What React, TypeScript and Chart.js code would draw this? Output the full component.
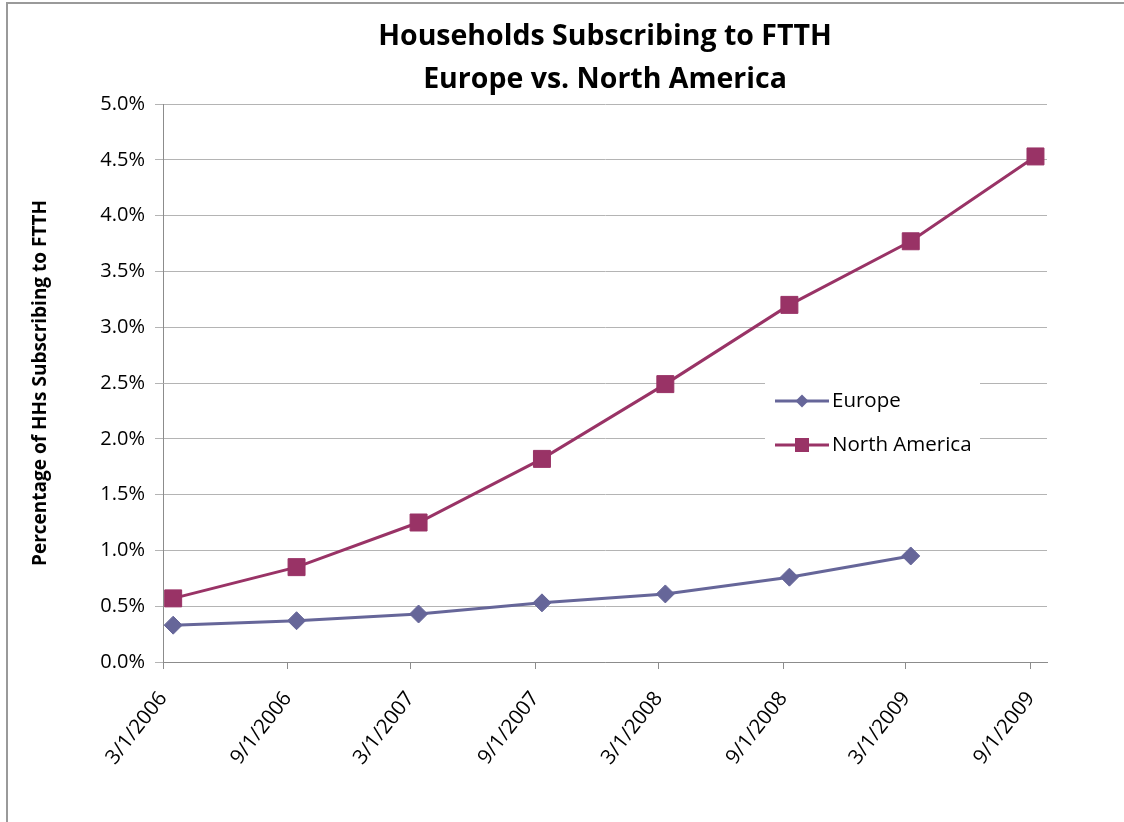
import React, { useEffect, useRef } from 'react';
import { Chart, registerables } from 'chart.js';

Chart.register(...registerables);

const titleLines = ['Households Subscribing to FTTH', 'Europe vs. North America'];
const yAxisTitle = 'Percentage of HHs Subscribing to FTTH';

const tickLabels = ['3/1/2006', '9/1/2006', '3/1/2007', '9/1/2007', '3/1/2008', '9/1/2008', '3/1/2009', '9/1/2009'];
const axisEnd = '9/25/2009';

const pointDates = ['3/16/2006', '9/14/2006', '3/13/2007', '9/11/2007', '3/11/2008', '9/10/2008', '3/8/2009', '9/8/2009'];
const europeValues = [0.33, 0.37, 0.43, 0.53, 0.61, 0.76, 0.95];
const northAmericaValues = [0.57, 0.85, 1.25, 1.82, 2.49, 3.2, 3.77, 4.53];

const seriesNames = ['Europe', 'North America'];
const seriesColors = ['#666699', '#993366'];

const toDay = (s: string) => {
  const [m, d, y] = s.split('/').map(Number);
  const base = Date.UTC(2006, 2, 1);
  return Math.round((Date.UTC(y, m - 1, d) - base) / 86400000);
};

const FONT = "'Open Sans', sans-serif";

function drawMarker(ctx: CanvasRenderingContext2D, style: string, x: number, y: number, r: number) {
  ctx.beginPath();
  if (style === 'rectRot') {
    ctx.moveTo(x - r, y);
    ctx.lineTo(x, y - r);
    ctx.lineTo(x + r, y);
    ctx.lineTo(x, y + r);
  } else {
    ctx.rect(x - r, y - r, 2 * r, 2 * r);
  }
  ctx.closePath();
  ctx.fill();
}

const legendPlugin = {
  id: 'insideLegend',
  afterDatasetsDraw(chart: any) {
    const { ctx, chartArea } = chart;
    const bx = chartArea.left + 602;
    const by = chartArea.top + 271;
    ctx.save();
    ctx.fillStyle = '#ffffff';
    ctx.fillRect(bx, by, 215, 88);
    chart.data.datasets.forEach((ds: any, i: number) => {
      const y = by + 26 + i * 44;
      const x0 = bx + 10;
      ctx.strokeStyle = ds.borderColor;
      ctx.lineWidth = 3;
      ctx.beginPath();
      ctx.moveTo(x0, y);
      ctx.lineTo(x0 + 54, y);
      ctx.stroke();
      ctx.fillStyle = ds.borderColor;
      drawMarker(ctx, ds.pointStyle, x0 + 27, y, ds.pointStyle === 'rectRot' ? 6.5 : 7);
      ctx.fillStyle = '#000';
      ctx.font = `20.5px ${FONT}`;
      ctx.textBaseline = 'middle';
      ctx.textAlign = 'left';
      ctx.fillText(ds.label, x0 + 57, y);
    });
    ctx.restore();
  },
};

export default function App() {
  const ref = useRef<HTMLCanvasElement>(null);

  useEffect(() => {
    if (!ref.current) return;
    const tickDays = tickLabels.map(toDay);
    const xs = pointDates.map(toDay);
    const chart = new Chart(ref.current, {
      type: 'line',
      data: {
        datasets: [
          {
            label: seriesNames[0],
            data: europeValues.map((v, i) => ({ x: xs[i], y: v })),
            borderColor: seriesColors[0],
            backgroundColor: seriesColors[0],
            borderWidth: 3,
            pointStyle: 'rectRot',
            pointRadius: 9,
            pointBorderWidth: 1,
            tension: 0,
          },
          {
            label: seriesNames[1],
            data: northAmericaValues.map((v, i) => ({ x: xs[i], y: v })),
            borderColor: seriesColors[1],
            backgroundColor: seriesColors[1],
            borderWidth: 3,
            pointStyle: 'rect',
            pointRadius: 12,
            pointBorderWidth: 1,
            tension: 0,
          },
        ],
      },
      options: {
        responsive: false,
        animation: false,
        layout: { padding: { left: 0, right: 77, top: 0, bottom: 0 } },
        plugins: {
          legend: { display: false },
          tooltip: { enabled: false },
          title: {
            display: true,
            fullSize: false,
            text: titleLines,
            color: '#000',
            font: { family: FONT, size: 28.5, weight: 'bold', lineHeight: 1.5 },
            padding: { top: 15.5, bottom: 3 },
          },
        },
        scales: {
          x: {
            type: 'linear',
            min: 0,
            max: toDay(axisEnd),
            afterBuildTicks: (scale: any) => {
              scale.ticks = tickDays.map((v) => ({ value: v }));
            },
            afterFit: (scale: any) => {
              scale.height = 160;
            },
            ticks: {
              autoSkip: false,
              minRotation: 52,
              maxRotation: 52,
              color: '#000',
              font: { family: FONT, size: 20.5 },
              padding: 18,
              callback: (v: any) => {
                const idx = tickDays.indexOf(Number(v));
                return idx >= 0 ? tickLabels[idx] : '';
              },
            },
            grid: { drawOnChartArea: false, drawTicks: true, tickLength: 7, color: '#8c8c8c' },
            border: { color: '#8c8c8c', width: 1 },
          },
          y: {
            min: 0,
            max: 5,
            afterFit: (scale: any) => {
              scale.width = 163;
            },
            ticks: {
              stepSize: 0.5,
              color: '#000',
              font: { family: FONT, size: 20 },
              padding: 10,
              callback: (v: any) => Number(v).toFixed(1) + '%',
            },
            grid: { color: '#b4b4b4', tickLength: 8 },
            border: { color: '#8c8c8c', width: 1 },
            title: {
              display: true,
              text: yAxisTitle,
              color: '#000',
              font: { family: FONT, size: 19, weight: 'bold' },
              padding: { top: 29, bottom: 0 },
            },
          },
        },
      },
      plugins: [legendPlugin],
    });
    return () => chart.destroy();
  }, []);

  return (
    <div style={{ position: 'absolute', left: 0, top: 0, width: 1124, height: 822, background: '#fff', overflow: 'hidden' }}>
      <div
        style={{
          position: 'absolute',
          left: 6,
          top: 2,
          width: 1200,
          height: 900,
          borderLeft: '2px solid #9a9a9a',
          borderTop: '2px solid #9a9a9a',
        }}
      />
      <canvas ref={ref} width={1124} height={822} style={{ position: 'absolute', left: 0, top: 0 }} />
    </div>
  );
}
